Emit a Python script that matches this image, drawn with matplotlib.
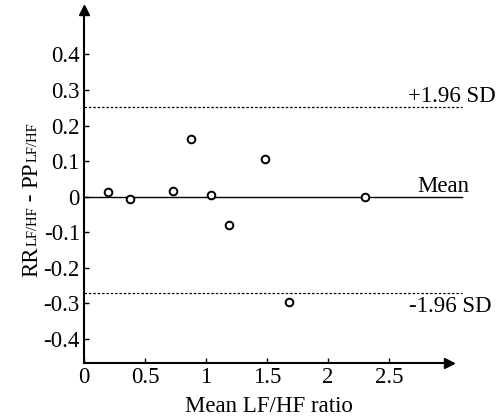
import matplotlib
matplotlib.use('Agg')
import matplotlib.pyplot as plt

# --- data --------------------------------------------------------------------
meanRatio = [0.20, 0.38, 0.73, 0.88, 1.04, 1.19, 1.48, 1.68, 2.30]
diffRatio = [0.014, -0.008, 0.017, 0.162, 0.005, -0.080, 0.106, -0.295, 0.000]
meanDiff = 0.0
upperLoA = 0.252
lowerLoA = -0.270
xTicks = [0, 0.5, 1, 1.5, 2, 2.5]
yTicks = [-0.4, -0.3, -0.2, -0.1, 0, 0.1, 0.2, 0.3, 0.4]
yLblParts = [('RR', 16.5), ('LF/HF', 10.5), (' - ', 16.5), ('PP', 16.5),
             ('LF/HF', 10.5)]

# --- style -------------------------------------------------------------------
plt.rcParams['font.family'] = ['Liberation Serif', 'DejaVu Serif']
fsz = 16.5

W, H = 502, 418
cFig = plt.figure(figsize=(W / 100, H / 100), dpi=100)
ax = cFig.add_axes([84 / W, (H - 363) / H, (449 - 84) / W, (363 - 10) / H])
ax.set_xlim(0, 2.99)
ax.set_ylim(-0.468, 0.525)

for s in ('top', 'right'):
    ax.spines[s].set_visible(False)
for s in ('left', 'bottom'):
    ax.spines[s].set_linewidth(1.5)

ax.tick_params(direction='in', length=3.5, width=1, labelsize=fsz, pad=3)
ax.set_xticks(xTicks)
ax.set_xticklabels(['%g' % v for v in xTicks])
ax.set_yticks(yTicks)
ax.set_yticklabels(['%g' % v for v in yTicks])

# arrow heads on axes
ax.plot(1, 0, '>k', ms=7, transform=ax.transAxes, clip_on=False)
ax.plot(0, 1, '^k', ms=7, transform=ax.transAxes, clip_on=False)

# reference lines
xEnd = 3.1
ax.plot([0, xEnd], [meanDiff, meanDiff], color='k', lw=1.0, clip_on=False)
ax.plot([0, xEnd], [upperLoA, upperLoA], color='k', lw=0.9,
        ls=(0, (2, 1.5)), clip_on=False)
ax.plot([0, xEnd], [lowerLoA, lowerLoA], color='k', lw=0.9,
        ls=(0, (2, 1.5)), clip_on=False)

ax.text(3.37, upperLoA + 0.03, '+1.96 SD', ha='right', va='center', fontsize=fsz)
ax.text(3.16, meanDiff + 0.028, 'Mean', ha='right', va='center', fontsize=fsz)
ax.text(3.34, lowerLoA - 0.04, '-1.96 SD', ha='right', va='center', fontsize=fsz)

ax.plot(meanRatio, diffRatio, 'o', ms=5.5, mfc='white', mec='k', mew=1.4,
        clip_on=False, zorder=5)

ax.set_xlabel('Mean LF/HF ratio', fontsize=fsz, labelpad=4)
ax.xaxis.set_label_coords(0.508, -0.093)

# y label built from pieces so the subscripts sit on the baseline
rndr = cFig.canvas.get_renderer()
yPix = 277
for sTxt, sz in yLblParts:
    t = cFig.text(37 / W, 1 - yPix / H, sTxt, rotation=90,
                  rotation_mode='anchor', ha='left', va='baseline', fontsize=sz)
    bb = t.get_window_extent(renderer=rndr)
    yPix -= bb.height

plt.savefig('out.png', dpi=100)
plt.close()
